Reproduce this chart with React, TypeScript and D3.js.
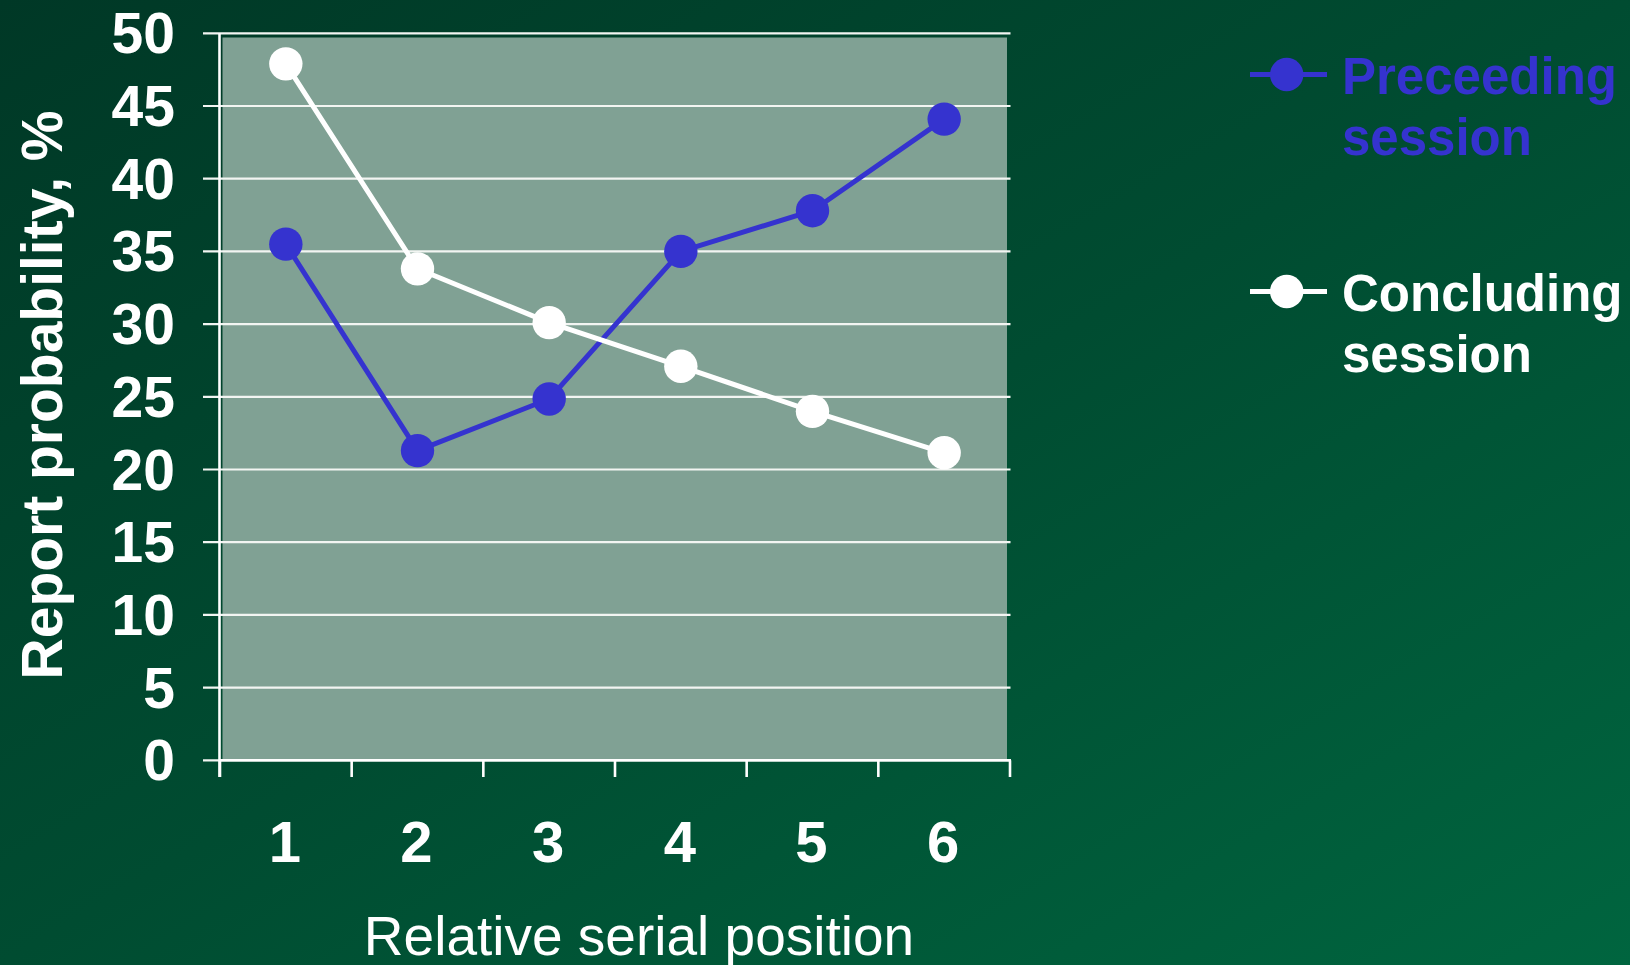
import React from "react";
import * as d3 from "d3";

const categories = ["1", "2", "3", "4", "5", "6"];
const preceeding = [35.5, 21.3, 24.85, 35.0, 37.8, 44.1];
const concluding = [47.9, 33.8, 30.1, 27.1, 24.0, 21.15];
const yTicks = [0, 5, 10, 15, 20, 25, 30, 35, 40, 45, 50];
const seriesNames = [["Preceeding", "session"], ["Concluding", "session"]];

const W = 1630;
const H = 965;
const BLUE = "#3533cf";
const FONT = "'Liberation Sans', Arial, Helvetica, sans-serif";

export default function App() {
  const x = d3.scaleBand<string>().domain(categories).range([220, 1010]);
  const y = d3.scaleLinear().domain([0, 50]).range([760.3, 33.3]);
  const cx = (c: string) => (x(c) as number) + x.bandwidth() / 2;
  const line = d3
    .line<number>()
    .x((_, i) => cx(categories[i]))
    .y((v) => y(v));

  const series = [
    { values: preceeding, color: BLUE, names: seriesNames[0], ly: 74.5 },
    { values: concluding, color: "#ffffff", names: seriesNames[1], ly: 291.5 },
  ];

  const xTickPos = [...categories.map((c) => x(c) as number), 1010];

  return (
    <svg
      width={W}
      height={H}
      style={{ position: "absolute", left: 0, top: 0, display: "block" }}
      fontFamily={FONT}
    >
      <defs>
        <linearGradient id="bg" x1="0" y1="0" x2="1" y2="1">
          <stop offset="0" stopColor="#003826" />
          <stop offset="0.5" stopColor="#004c31" />
          <stop offset="1" stopColor="#00653f" />
        </linearGradient>
      </defs>
      <rect x={0} y={0} width={W} height={H} fill="url(#bg)" />
      {/* plot background */}
      <rect x={222.5} y={37.5} width={1007 - 222.5} height={760.3 - 37.5} fill="#80a194" />
      {/* gridlines + y ticks */}
      {yTicks.map((t) => (
        <line
          key={"g" + t}
          x1={203}
          x2={1010.5}
          y1={y(t)}
          y2={y(t)}
          stroke="#f2f5f2"
          strokeWidth={2.2}
        />
      ))}
      {/* y axis */}
      <line x1={219.5} x2={219.5} y1={33.3} y2={777} stroke="#ffffff" strokeWidth={2.6} />
      {/* x axis */}
      <line x1={219} x2={1011} y1={760.3} y2={760.3} stroke="#ffffff" strokeWidth={2.6} />
      {xTickPos.map((p, i) => (
        <line key={"xt" + i} x1={p} x2={p} y1={760.3} y2={777} stroke="#ffffff" strokeWidth={2.6} />
      ))}
      {/* y tick labels */}
      {yTicks.map((t) => (
        <text
          key={"yl" + t}
          x={175}
          y={y(t) + 20}
          textAnchor="end"
          fontSize={57}
          fontWeight="bold"
          fill="#ffffff"
        >
          {t}
        </text>
      ))}
      {/* x tick labels */}
      {categories.map((c) => (
        <text
          key={"xl" + c}
          x={cx(c) - 1}
          y={862}
          textAnchor="middle"
          fontSize={58}
          fontWeight="bold"
          fill="#ffffff"
        >
          {c}
        </text>
      ))}
      {/* axis titles */}
      <text x={639} y={955} textAnchor="middle" fontSize={55} fill="#ffffff">
        Relative serial position
      </text>
      <text
        transform={`translate(62, 395) rotate(-90)`}
        textAnchor="middle"
        fontSize={57}
        fontWeight="bold"
        fill="#ffffff"
      >
        Report probability, %
      </text>
      {/* series */}
      {series.map((s, si) => (
        <g key={"s" + si}>
          <path d={line(s.values) || ""} fill="none" stroke={s.color} strokeWidth={5} />
          {s.values.map((v, i) => (
            <circle key={i} cx={cx(categories[i])} cy={y(v)} r={16.7} fill={s.color} />
          ))}
        </g>
      ))}
      {/* legend */}
      {series.map((s, si) => (
        <g key={"lg" + si}>
          <line x1={1250} x2={1327} y1={s.ly} y2={s.ly} stroke={s.color} strokeWidth={5} />
          <circle cx={1286.7} cy={s.ly} r={16.7} fill={s.color} />
          <text x={1342} y={s.ly + 19} fontSize={51} fontWeight="bold" fill={s.color}>
            {s.names[0]}
          </text>
          <text x={1342} y={s.ly + 80} fontSize={51} fontWeight="bold" fill={s.color}>
            {s.names[1]}
          </text>
        </g>
      ))}
    </svg>
  );
}
